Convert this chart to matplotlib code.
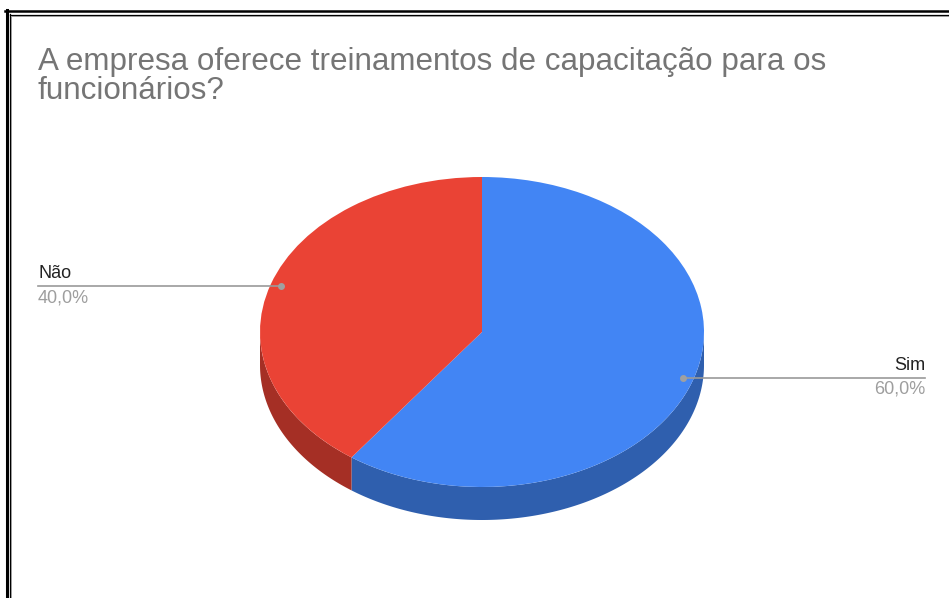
import numpy as np
import matplotlib.pyplot as plt
from matplotlib.patches import Polygon
from matplotlib.lines import Line2D

plt.rcParams['font.family'] = ['Liberation Sans', 'DejaVu Sans']

title = 'A empresa oferece treinamentos de capacitação para os\nfuncionários?'
labels = ['Sim', 'Não']
values = [60, 40]
pct_labels = ['60,0%', '40,0%']
top_colors = ['#4285f4', '#ea4335']
side_colors = ['#2f5fae', '#a52f25']

W, H = 949, 598
fig = plt.figure(figsize=(W / 100, H / 100), dpi=100)

# pie geometry in pixels (centre, radii, thickness)
cx, cy, rx, ry, depth = 482, 332, 222, 155, 33

ax = fig.add_axes([0, 0, 1, 1])
wedges, _ = ax.pie(values, colors=top_colors, startangle=90, counterclock=False,
                   radius=1, wedgeprops=dict(linewidth=0))
for w in wedges:
    w.set_zorder(3)
ax.set_aspect('auto')
ax.set_xlim(-cx / rx, (W - cx) / rx)
ax.set_ylim(-(H - cy) / ry, cy / ry)
ax.axis('off')

# side walls of the 3D disc (only the front half is visible)
d = depth / ry
for w, col in zip(wedges, side_colors):
    t1, t2 = w.theta1, w.theta2
    while t1 >= 360:
        t1 -= 360
        t2 -= 360
    segs = []
    for off in (0, 360, -360):
        a = max(t1 + off, 180)
        b = min(t2 + off, 360)
        if b > a:
            segs.append((a, b))
    for a, b in segs:
        th = np.radians(np.linspace(a, b, 200))
        xs = np.cos(th)
        ys = np.sin(th)
        pts = np.concatenate([np.column_stack([xs, ys]),
                              np.column_stack([xs[::-1], ys[::-1] - d])])
        ax.add_patch(Polygon(pts, closed=True, facecolor=col, edgecolor='none', zorder=2))


def px(x, y):
    return x / W, 1 - y / H


# leader lines and labels
for w, lab, pct in zip(wedges, labels, pct_labels):
    mid = np.radians((w.theta1 + w.theta2) / 2)
    dx = cx + 0.95 * rx * np.cos(mid)
    dy = cy - 0.95 * ry * np.sin(mid)
    if np.cos(mid) < 0:
        x_end, ha = 38, 'left'
    else:
        x_end, ha = 925, 'right'
    fig.add_artist(Line2D([dx / W, x_end / W], [1 - dy / H, 1 - dy / H],
                          color='#9a9a9a', lw=1.2, zorder=5))
    fig.add_artist(Line2D([dx / W], [1 - dy / H], marker='o', ms=5,
                          color='#a0a0a0', mec='none', zorder=6))
    fig.text(*px(x_end, dy - 4), lab, ha=ha, va='bottom', fontsize=13, color='#222222')
    fig.text(*px(x_end, dy + 3), pct, ha=ha, va='top', fontsize=13, color='#9e9e9e')

# title
fig.text(*px(38, 47), title, ha='left', va='top', fontsize=22.6, color='#757575',
         linespacing=0.96)

# double border (top and left edges of the screenshot)
fig.add_artist(Line2D([5 / W, 1], [1 - 11.2 / H, 1 - 11.2 / H], color='black', lw=1.8))
fig.add_artist(Line2D([6.5 / W, 6.5 / W], [1 - 10 / H, 0], color='black', lw=2.2))
fig.add_artist(Line2D([9.6 / W, 1], [1 - 14.6 / H, 1 - 14.6 / H], color='black', lw=0.9))
fig.add_artist(Line2D([9.7 / W, 9.7 / W], [1 - 14.2 / H, 0], color='black', lw=0.9))
fig.add_artist(Line2D([10.9 / W, 10.9 / W], [1 - 15.5 / H, 0], color='#9a9a9a', lw=0.7))
fig.add_artist(Line2D([10.5 / W, 1], [1 - 15.8 / H, 1 - 15.8 / H], color='#9a9a9a', lw=0.7))

fig.savefig('out.png', dpi=100)
